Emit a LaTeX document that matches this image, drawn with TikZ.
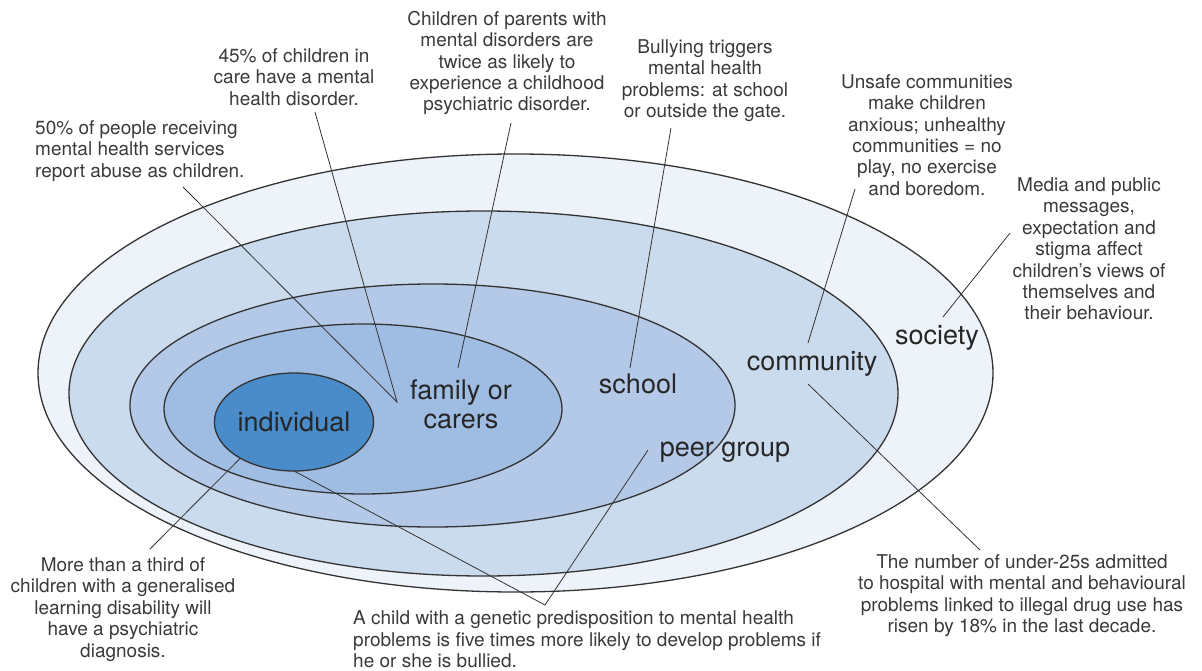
\documentclass[tikz,border=0pt]{standalone}
\usepackage{fontspec}
\setmainfont{TeX Gyre Heros}
\usetikzlibrary{shapes.geometric}
\definecolor{socfill}{HTML}{EEF3FA}
\definecolor{comfill}{HTML}{CBDBEE}
\definecolor{schfill}{HTML}{B4C9E7}
\definecolor{famfill}{HTML}{9FBCE3}
\definecolor{indfill}{HTML}{4A8CC9}
\definecolor{notegray}{HTML}{3A3A3A}
\definecolor{zonegray}{HTML}{262626}
\definecolor{linegray}{HTML}{333333}
\begin{document}
\begin{tikzpicture}[x=1pt,y=-1pt,
  ring/.style={ellipse, draw=linegray, line width=1.3pt, inner sep=0pt, outer sep=0pt},
  note/.style={font=\fontsize{19}{21.4}\selectfont, text=notegray, align=center, inner sep=0pt},
  notel/.style={note, align=left},
  zone/.style={font=\fontsize{27}{29}\selectfont, text=zonegray, inner sep=0pt, align=center},
  leader/.style={draw=linegray, line width=0.8pt}]
\useasboundingbox (0,0) rectangle (1202,671);

% rings
\node[ring, fill=socfill, minimum width=955pt, minimum height=438pt] (soc) at (515.5,373) {};
\node[ring, fill=comfill, minimum width=829pt, minimum height=365pt] (com) at (483.5,393.5) {};
\node[ring, fill=schfill, minimum width=605pt, minimum height=243pt] (sch) at (432.5,405.5) {};
\node[ring, fill=famfill, minimum width=398pt, minimum height=170pt] (fam) at (363,409) {};
\node[ring, fill=indfill, minimum width=156pt, minimum height=98pt, zone] (ind) at (294,422) {individual};

% zone labels
\node[zone] (lfam) at (461,404.5) {family or\\carers};
\node[zone] (lsch) at (638,384) {school};
\node[zone] (lpeer) at (725,452) {peer group};
\node[zone] (lcom) at (812,364) {community};
\node[zone] (lsoc) at (937,338) {society};

% notes
\node[note] (n45) at (294,77) {45\% of children in\\care have a mental\\health disorder.};
\node[notel, anchor=west] (n50) at (35,151) {50\% of people receiving\\mental health services\\report abuse as children.};
\node[note] (nchild) at (507,63) {Children of parents with\\mental disorders are\\twice as likely to\\experience a childhood\\psychiatric disorder.};
\node[note] (nbully) at (705,80.5) {Bullying triggers\\mental health\\problems: at school\\or outside the gate.};
\node[note] (nunsafe) at (927,135) {Unsafe communities\\make children\\anxious; unhealthy\\communities = no\\play, no exercise\\and boredom.};
\node[note] (nmedia) at (1089,249) {Media and public\\messages,\\expectation and\\stigma affect\\children’s views of\\themselves and\\their behaviour.};
\node[note] (nthird) at (123,609.5) {More than a third of\\children with a generalised\\learning disability will\\have a psychiatric\\diagnosis.};
\node[notel, anchor=west] (ngen) at (353,639.5) {A child with a genetic predisposition to mental health\\problems is five times more likely to develop problems if\\he or she is bullied.};
\node[note] (nnum) at (1022,595.5) {The number of under-25s admitted\\to hospital with mental and behavioural\\problems linked to illegal drug use has\\risen by 18\% in the last decade.};

% leader end points
\coordinate (a50) at (183,187);
\coordinate (a45) at (315,112);
\coordinate (vfam) at (397,402);
\coordinate (achild) at (511,123);
\coordinate (bchild) at (458,368);
\coordinate (abully) at (671,128);
\coordinate (bbully) at (630,368);
\coordinate (aunsafe) at (855,189);
\coordinate (bunsafe) at (808,343);
\coordinate (amedia) at (1010,233);
\coordinate (bmedia) at (943,317);
\coordinate (athird) at (150,549);
\coordinate (vgen) at (545,605);
\coordinate (bpeer) at (648,450);
\coordinate (bcom) at (808,384);
\coordinate (anum) at (980,550);

% leaders
\draw[leader] (a50) -- (vfam) -- (a45);
\draw[leader] (achild) -- (bchild);
\draw[leader] (abully) -- (bbully);
\draw[leader] (aunsafe) -- (bunsafe);
\draw[leader] (amedia) -- (bmedia);
\draw[leader] (athird) -- (ind.214);
\draw[leader] (ind.south) -- (vgen) -- (bpeer);
\draw[leader] (bcom) -- (anum);
\end{tikzpicture}
\end{document}
